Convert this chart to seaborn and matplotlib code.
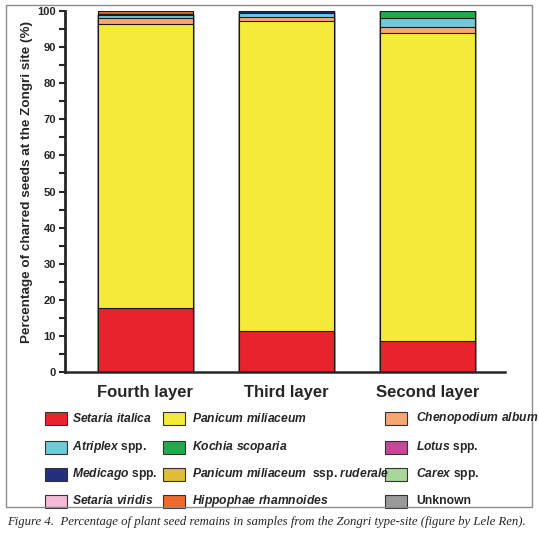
import matplotlib
matplotlib.use("Agg")
import matplotlib.pyplot as plt
from matplotlib.patches import Rectangle
from matplotlib.ticker import MultipleLocator
import numpy as np
import pandas as pd
import seaborn as sns

layers = ["Fourth layer", "Third layer", "Second layer"]

# percentages per layer, stacked bottom -> top in this order
setaria_italica = [17.7, 11.4, 8.6]
panicum_miliaceum = [78.7, 85.7, 85.4]
chenopodium_album = [1.6, 1.3, 1.6]
atriplex = [0.8, 1.0, 2.4]
kochia_scoparia = [0.0, 0.0, 2.0]
lotus = [0.0, 0.0, 0.0]
medicago = [0.5, 0.6, 0.0]
panicum_ruderale = [0.0, 0.0, 0.0]
carex = [0.0, 0.0, 0.0]
setaria_viridis = [0.0, 0.0, 0.0]
hippophae = [0.7, 0.0, 0.0]
unknown = [0.0, 0.0, 0.0]

series = [setaria_italica, panicum_miliaceum, chenopodium_album, atriplex,
          kochia_scoparia, lotus, medicago, panicum_ruderale, carex,
          setaria_viridis, hippophae, unknown]
labels = [r"$Setaria\ italica$", r"$Panicum\ miliaceum$", r"$Chenopodium\ album$",
          r"$Atriplex$ spp.", r"$Kochia\ scoparia$", r"$Lotus$ spp.",
          r"$Medicago$ spp.", r"$Panicum\ miliaceum$  ssp. $ruderale$", r"$Carex$ spp.",
          r"$Setaria\ viridis$", r"$Hippophae\ rhamnoides$", "Unknown"]
colors = ["#e8232d", "#f3ea3a", "#f6a673", "#6ccad9", "#22a94b", "#c84897",
          "#24307c", "#e0be3a", "#a9d79a", "#f5bad6", "#ee6a2d", "#999999"]

sns.set_style("ticks")
plt.rcParams["font.family"] = ["Liberation Sans", "DejaVu Sans"]
plt.rcParams["font.weight"] = "bold"
plt.rcParams["mathtext.fontset"] = "custom"
plt.rcParams["mathtext.it"] = "Liberation Sans:italic:bold"
plt.rcParams["mathtext.rm"] = "Liberation Sans:bold"
plt.rcParams["mathtext.bf"] = "Liberation Sans:bold"

W, H = 539, 540
fig = plt.figure(figsize=(W / 100, H / 100), dpi=100)
ax = fig.add_axes([65 / W, 1 - 372 / H, 440 / W, 361 / H])

# stacked bars: draw cumulative totals from the top down
cum = np.cumsum(np.array(series), axis=0)
for i in range(len(series) - 1, -1, -1):
    df = pd.DataFrame({"layer": layers, "value": cum[i]})
    sns.barplot(data=df, x="layer", y="value", color=colors[i], saturation=1,
                edgecolor="#1a1a1a", linewidth=0.8, width=0.67, errorbar=None, ax=ax)

ax.set_xlim(-0.57, 2.55)
ax.set_ylim(0, 100)
ax.yaxis.set_major_locator(MultipleLocator(10))
ax.yaxis.set_minor_locator(MultipleLocator(5))
ax.tick_params(axis="y", which="major", length=4.5, width=1.5, labelsize=8, pad=2)
ax.tick_params(axis="y", which="minor", length=4, width=1.5)
ax.tick_params(axis="x", length=0, labelsize=12, pad=9)
for lab in ax.get_yticklabels() + ax.get_xticklabels():
    lab.set_fontweight("bold")
ax.set_xlabel("")
ax.set_ylabel("Percentage of charred seeds at the Zongri site (%)", fontsize=9.7,
              fontweight="bold")
ax.yaxis.set_label_coords(-0.072, 0.526)
sns.despine(ax=ax)
ax.spines["left"].set_linewidth(2)
ax.spines["bottom"].set_linewidth(1.8)

# legend: 3 columns x 4 rows, filled row by row
col_patch = [45, 163, 385]
col_text = [72, 192, 416]
row_y = [418, 447, 474, 501]
for k, (lab, c) in enumerate(zip(labels, colors)):
    r, col = divmod(k, 3)
    x0, yc = col_patch[col], row_y[r]
    fig.patches.append(Rectangle((x0 / W, 1 - (yc + 6.5) / H), 22 / W, 13 / H,
                                 transform=fig.transFigure, facecolor=c,
                                 edgecolor="#333333", linewidth=0.8))
    fig.text(col_text[col] / W, 1 - yc / H, lab, fontsize=8.7, fontweight="bold",
             va="center", ha="left")

fig.patches.append(Rectangle((6 / W, 1 - 507 / H), 526 / W, 502 / H,
                             transform=fig.transFigure, fill=False,
                             edgecolor="#8c8c8c", linewidth=1))

fig.text(7 / W, 1 - 522 / H,
         "Figure 4.  Percentage of plant seed remains in samples from the Zongri type-site (figure by Lele Ren).",
         family="Liberation Serif", style="italic", fontweight="normal",
         fontsize=9.2, va="center", ha="left")

fig.savefig("out.png", dpi=100)
